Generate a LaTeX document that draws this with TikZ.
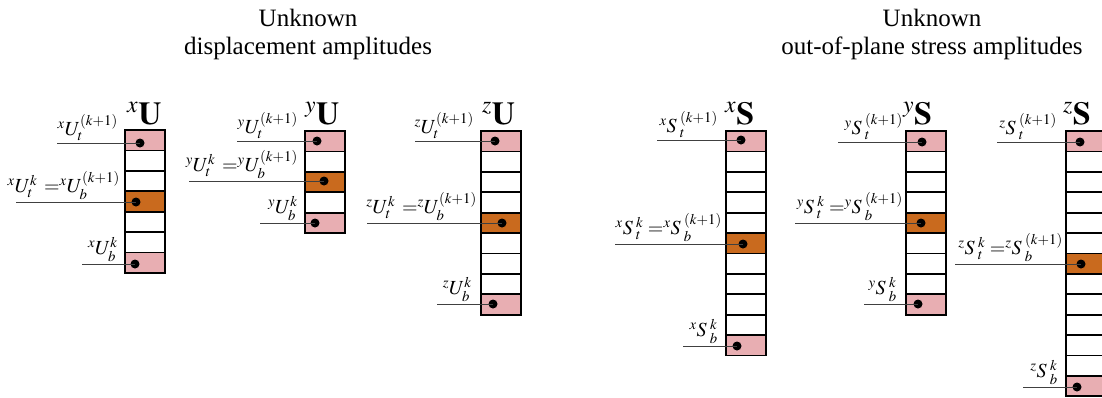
\documentclass[tikz,border=0pt]{standalone}
\usepackage{mathptmx}
\usepackage{fontspec}
\setmainfont{Liberation Serif}
\definecolor{cpink}{HTML}{E8AEB2}
\definecolor{corange}{HTML}{C96A1E}
\tikzset{
 cell/.style={draw, line width=1.8pt, minimum width=40pt, minimum height=20.4pt, inner sep=0pt, outer sep=0pt, fill=white},
 pinkcell/.style={cell, fill=cpink},
 orcell/.style={cell, fill=corange},
 dotnode/.style={circle, fill=black, inner sep=0pt, minimum size=9pt},
 lead/.style={line width=0.8pt, draw=black!75},
 lab/.style={anchor=south east, inner sep=0pt, font=\fontsize{20}{20}\selectfont},
 head/.style={anchor=base west, inner sep=0pt, font=\fontsize{32}{32}\selectfont},
 titletext/.style={anchor=base, inner sep=0pt, font=\fontsize{25}{25}\selectfont},
}
% name, left x, top y, number of cells, orange index
\newcommand\mycol[5]{%
 \foreach \i in {1,...,#4} {%
  \ifnum\i=1 \def\st{pinkcell}\else\ifnum\i=#4 \def\st{pinkcell}\else\ifnum\i=#5 \def\st{orcell}\else\def\st{cell}\fi\fi\fi
  \node[\st] (#1-\i) at (#2+20,#3+\i*20.4-10.2) {};
 }%
}
% name, start x, dot x, y, label right x, text
\newcommand\myleader[6]{%
 \coordinate (#1s) at (#2,#4);
 \node[dotnode] (#1d) at (#3,#4) {};
 \draw[lead] (#1s) -- (#1d.center);
 \node[lab] (#1l) at (#5,#4-2.5) {#6};
}
\begin{document}
\begin{tikzpicture}[x=1pt,y=-1pt]
\useasboundingbox (0,0) rectangle (1102,397);
% titles
\node[titletext] (t1a) at (308,26) {Unknown};
\node[titletext] (t1b) at (308,54) {displacement amplitudes};
\node[titletext] (t2a) at (932,26) {Unknown};
\node[titletext] (t2b) at (932,54) {out-of-plane stress amplitudes};
% columns
\mycol{xU}{125}{130}{7}{4}
\mycol{yU}{305}{131}{5}{3}
\mycol{zU}{481}{131}{9}{5}
\mycol{xS}{726}{131}{11}{6}
\mycol{yS}{906}{131}{9}{5}
\mycol{zS}{1066}{131}{13}{7}
% headers
\node[head] (hxU) at (127,124) {${}^{x}\mathbf{U}$};
\node[head] (hyU) at (305,124) {${}^{y}\mathbf{U}$};
\node[head] (hzU) at (482,124) {${}^{z}\mathbf{U}$};
\node[head] (hxS) at (725,124) {${}^{x}\mathbf{S}$};
\node[head] (hyS) at (903,124) {${}^{y}\mathbf{S}$};
\node[head] (hzS) at (1063,124) {${}^{z}\mathbf{S}$};
% leaders xU
\myleader{xUa}{57}{140}{143}{118}{${}^{x}U_t^{(k+1)}$}
\myleader{xUb}{16}{136}{202}{120}{${}^{x}U_t^{k}\;\,{=}{}^{x}U_b^{(k+1)}$}
\myleader{xUc}{82}{135}{264}{118}{${}^{x}U_b^{k}$}
% leaders yU
\myleader{yUa}{237}{317}{141}{298}{${}^{y}U_t^{(k+1)}$}
\myleader{yUb}{189}{324}{181}{298}{${}^{y}U_t^{k}\;\,{=}{}^{y}U_b^{(k+1)}$}
\myleader{yUc}{260}{315}{223}{298}{${}^{y}U_b^{k}$}
% leaders zU
\myleader{zUa}{415}{495}{141}{474}{${}^{z}U_t^{(k+1)}$}
\myleader{zUb}{367}{502}{223}{477}{${}^{z}U_t^{k}\;\,{=}{}^{z}U_b^{(k+1)}$}
\myleader{zUc}{437}{493}{304}{472}{${}^{z}U_b^{k}$}
% leaders xS
\myleader{xSa}{657}{741}{140}{718}{${}^{x}S^{\;(k+1)}_{\;t}$}
\myleader{xSb}{615}{743}{244}{722}{${}^{x}S^{\;k}_{\;t}\;{=}{}^{x}S^{\;(k+1)}_{\;b}$}
\myleader{xSc}{683}{737}{346}{718}{${}^{x}S^{\;k}_{\;b}$}
% leaders yS
\myleader{ySa}{838}{922}{142}{903}{${}^{y}S^{\;(k+1)}_{\;t}$}
\myleader{ySb}{795}{921}{223}{903}{${}^{y}S^{\;k}_{\;t}\;{=}{}^{y}S^{\;(k+1)}_{\;b}$}
\myleader{ySc}{864}{918}{304}{897}{${}^{y}S^{\;k}_{\;b}$}
% leaders zS
\myleader{zSa}{997}{1080}{142}{1057}{${}^{z}S^{\;(k+1)}_{\;t}$}
\myleader{zSb}{955}{1081}{264}{1063}{${}^{z}S^{\;k}_{\;t}\;{=}{}^{z}S^{\;(k+1)}_{\;b}$}
\myleader{zSc}{1023}{1077}{387}{1058}{${}^{z}S^{\;k}_{\;b}$}
\end{tikzpicture}
\end{document}
